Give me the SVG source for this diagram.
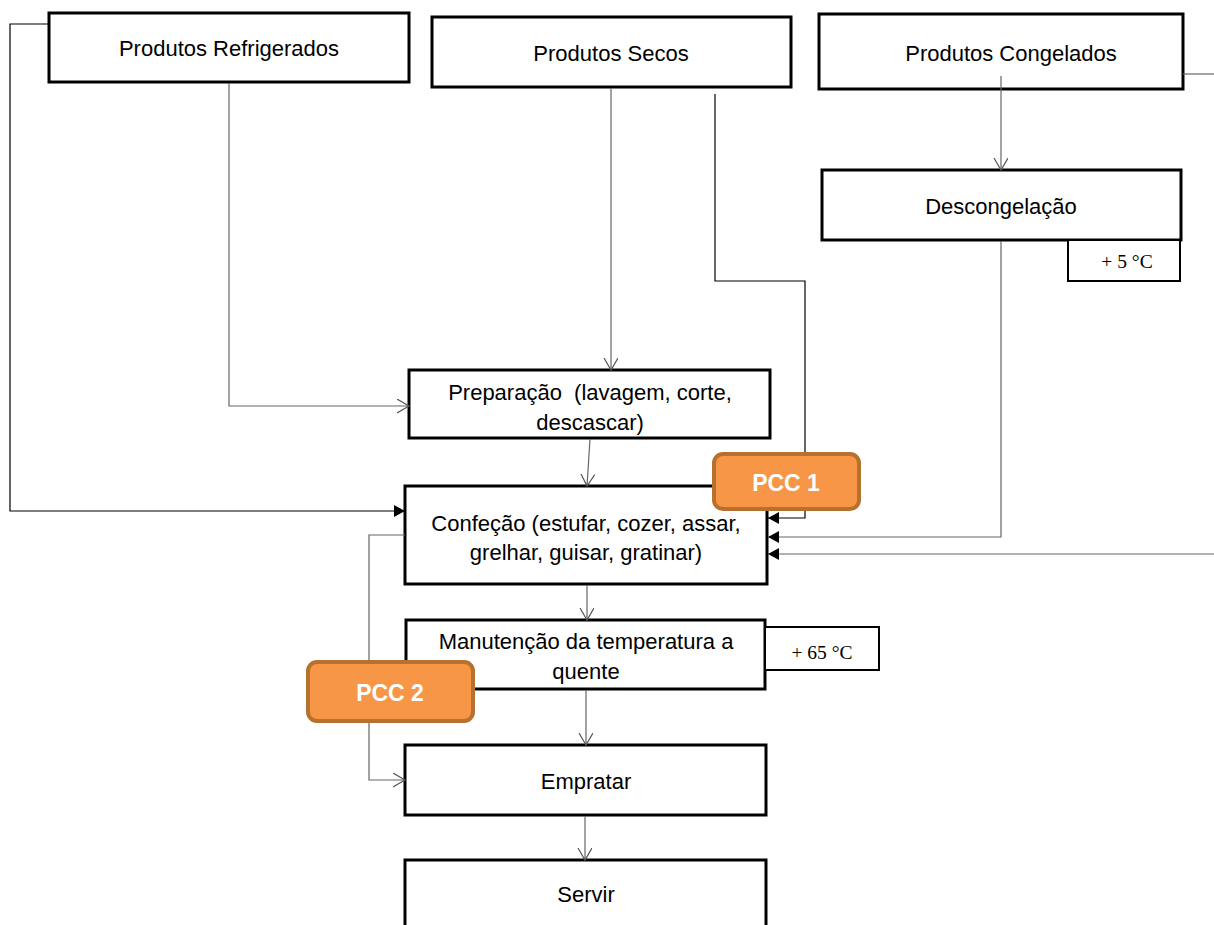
<svg xmlns="http://www.w3.org/2000/svg" width="1214" height="925" viewBox="0 0 1214 925">
<style>
.box{fill:#fff;stroke:#000;stroke-width:3}
.tbox{fill:#fff;stroke:#000;stroke-width:2}
.t{font-family:"Liberation Sans",Arial,sans-serif;font-size:22px;fill:#000;text-anchor:middle}
.s{font-family:"Liberation Serif","Times New Roman",serif;font-size:19.5px;fill:#000;text-anchor:middle}
.pcc{fill:#F79646;stroke:#B6702F;stroke-width:4}
.pt{font-family:"Liberation Sans",Arial,sans-serif;font-size:23px;font-weight:bold;fill:#fff;text-anchor:middle}
.c{fill:none;stroke:#666;stroke-width:1.2}
.k{fill:none;stroke:#000;stroke-width:1.2}
</style>
<defs>
<marker id="open" markerWidth="14" markerHeight="16" refX="12" refY="7" orient="auto" markerUnits="userSpaceOnUse"><path d="M0,0 L12,7 L0,14" fill="none" stroke="#555" stroke-width="1.2"/></marker>
<marker id="fill" markerWidth="12" markerHeight="14" refX="11" refY="6" orient="auto" markerUnits="userSpaceOnUse"><path d="M0,0 L11,6 L0,12 z" fill="#000"/></marker>
</defs>
<rect width="1214" height="925" fill="#fff"/>
<g id="n-refrigerados"><rect class="box" x="49" y="13" width="360" height="69"/><text class="t" x="229" y="56">Produtos Refrigerados</text></g>
<g id="n-secos"><rect class="box" x="432" y="17" width="359" height="70"/><text class="t" x="611" y="61">Produtos Secos</text></g>
<g id="n-congelados"><rect class="box" x="819" y="14" width="364" height="75"/><text class="t" x="1011" y="61">Produtos Congelados</text></g>
<g id="n-descongelacao"><rect class="box" x="822" y="170" width="359" height="70"/><text class="t" x="1001" y="214">Descongelação</text></g>
<g id="n-t5"><rect class="tbox" x="1068" y="240" width="112" height="41"/><text class="s" x="1127" y="268">+ 5 °C</text></g>
<g id="n-preparacao"><rect class="box" x="409" y="370" width="361" height="68"/><text class="t" x="590" y="400" xml:space="preserve" style="white-space:pre">Preparação  (lavagem, corte,</text><text class="t" x="590" y="430">descascar)</text></g>
<g id="n-confecao"><rect class="box" x="405" y="486" width="362" height="98"/><text class="t" x="586" y="531">Confeção (estufar, cozer, assar,</text><text class="t" x="586" y="560">grelhar, guisar, gratinar)</text></g>
<g id="n-manutencao"><rect class="box" x="406" y="620" width="359" height="69"/><text class="t" x="586" y="649">Manutenção da temperatura a</text><text class="t" x="586" y="679">quente</text></g>
<g id="n-t65"><rect class="tbox" x="765" y="627" width="114" height="43"/><text class="s" x="822" y="659">+ 65 °C</text></g>
<g id="n-empratar"><rect class="box" x="405" y="745" width="361" height="70"/><text class="t" x="586" y="789">Empratar</text></g>
<g id="n-servir"><rect class="box" x="405" y="860" width="361" height="80"/><text class="t" x="586" y="902">Servir</text></g>
<g id="connectors">
<path class="k" d="M49,24 H10 V511 H405" marker-end="url(#fill)"/>
<path class="c" d="M229,83 V406 H409" marker-end="url(#open)"/>
<path class="c" d="M611,88 V370" marker-end="url(#open)"/>
<path class="k" d="M715,94 V281 H805 V518 H768" marker-end="url(#fill)"/>
<path class="c" d="M1001,76 V170" marker-end="url(#open)"/>
<path class="c" d="M1183,74 H1214"/>
<path class="c" d="M1001,241 V537 H768" marker-end="url(#fill)"/>
<path class="c" d="M1214,554 H768" marker-end="url(#fill)"/>
<path class="c" d="M590,439 L587,486" marker-end="url(#open)"/>
<path class="c" d="M405,535 H369 V780 H405" marker-end="url(#open)"/>
<path class="c" d="M587,585 V620" marker-end="url(#open)"/>
<path class="c" d="M586,690 V745" marker-end="url(#open)"/>
<path class="c" d="M585,816 V860" marker-end="url(#open)"/>
</g>
<g id="n-pcc1"><rect class="pcc" x="714" y="454" width="145" height="55" rx="9"/><text class="pt" x="786" y="491">PCC 1</text></g>
<g id="n-pcc2"><rect class="pcc" x="308" y="662" width="165" height="59" rx="9"/><text class="pt" x="390" y="701">PCC 2</text></g>
</svg>
